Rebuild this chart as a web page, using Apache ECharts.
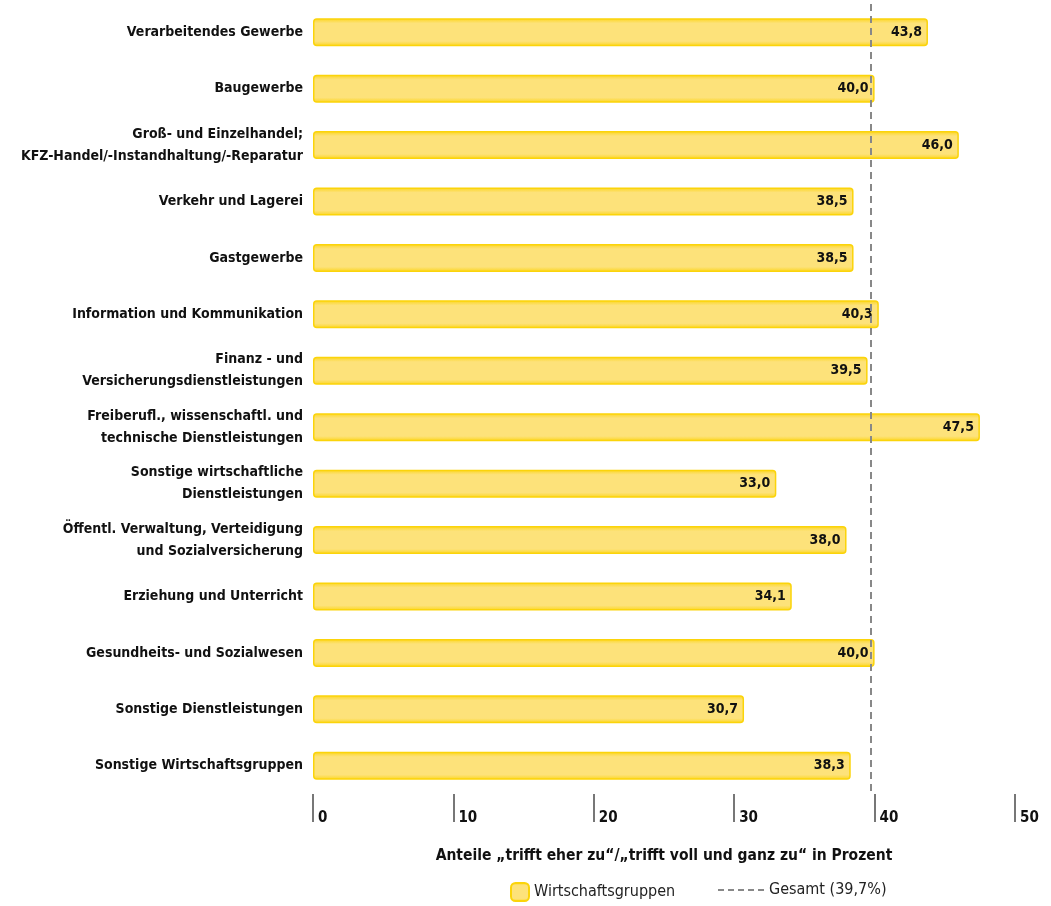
<!DOCTYPE html>
<html>
<head>
<meta charset="utf-8">
<script src="https://cdn.jsdelivr.net/npm/echarts@6/dist/echarts.min.js"></script>
<style>
html, body { margin: 0; padding: 0; background: #fff; }
#main { width: 1051px; height: 906px; }
</style>
</head>
<body>
<div id="main"></div>
<script>
var categories = [
	'Verarbeitendes Gewerbe',
	'Baugewerbe',
	'Groß- und Einzelhandel;\nKFZ-Handel/-Instandhaltung/-Reparatur',
	'Verkehr und Lagerei',
	'Gastgewerbe',
	'Information und Kommunikation',
	'Finanz - und\nVersicherungsdienstleistungen',
	'Freiberufl., wissenschaftl. und\ntechnische Dienstleistungen',
	'Sonstige wirtschaftliche\nDienstleistungen',
	'Öffentl. Verwaltung, Verteidigung\nund Sozialversicherung',
	'Erziehung und Unterricht',
	'Gesundheits- und Sozialwesen',
	'Sonstige Dienstleistungen',
	'Sonstige Wirtschaftsgruppen'
];
var values = [43.8, 40.0, 46.0, 38.5, 38.5, 40.3, 39.5, 47.5, 33.0, 38.0, 34.1, 40.0, 30.7, 38.3];
var gesamt = 39.7;
var ticks = [0, 10, 20, 30, 40, 50];

var font = "'DejaVu Sans Condensed', 'Liberation Sans Narrow', 'Noto Sans', sans-serif";

var myChart = echarts.init(document.getElementById('main'));

var option = {
	animation: false,
	textStyle: { fontFamily: font },
	grid: { left: 313, right: 36, top: 4, bottom: 112, containLabel: false, outerBoundsMode: 'none' },
	legend: [
		{
			left: 505,
			top: 877,
			itemWidth: 18,
			itemHeight: 18,
			textStyle: { fontSize: 16, color: '#222', fontFamily: font },
			data: [{ name: 'Wirtschaftsgruppen', icon: 'roundRect' }]
		},
		{
			left: 712,
			top: 877,
			itemWidth: 46,
			itemHeight: 18,
			textStyle: { fontSize: 16, color: '#222', fontFamily: font },
			data: [{ name: 'Gesamt (39,7%)', itemStyle: { opacity: 0 } }]
		}
	],
	xAxis: {
		type: 'value',
		min: ticks[0],
		max: ticks[ticks.length - 1],
		interval: 10,
		position: 'bottom',
		splitLine: { show: false },
		axisLine: { show: false },
		axisTick: { show: true, length: 28, inside: false, lineStyle: { color: '#777', width: 2 } },
		axisLabel: {
			margin: 17,
			align: 'left',
			padding: [0, 0, 0, 5],
			fontSize: 15,
			fontWeight: 'bold',
			color: '#111'
		},
		name: 'Anteile „trifft eher zu“/„trifft voll und ganz zu“ in Prozent',
		nameLocation: 'middle',
		nameGap: 54,
		nameTextStyle: { fontSize: 15.5, fontWeight: 'bold', color: '#111' }
	},
	yAxis: {
		type: 'category',
		inverse: true,
		data: categories,
		axisLine: { show: false },
		axisTick: { show: false },
		axisLabel: {
			margin: 10,
			fontSize: 14,
			fontWeight: 'bold',
			color: '#111',
			lineHeight: 22
		}
	},
	series: [
		{
			name: 'Wirtschaftsgruppen',
			type: 'bar',
			barWidth: 28,
			data: values,
			itemStyle: {
				color: new echarts.graphic.LinearGradient(0, 0, 0, 1, [
					{ offset: 0, color: '#fcd51c' },
					{ offset: 0.18, color: '#fde27a' },
					{ offset: 0.82, color: '#fde27a' },
					{ offset: 1, color: '#fcd51c' }
				]),
				borderColor: '#fbd40a',
				borderWidth: 1.5,
				borderRadius: 3
			},
			label: {
				show: true,
				position: 'insideRight',
				distance: 6,
				fontSize: 14,
				fontWeight: 'bold',
				color: '#111',
				formatter: function (p) {
					return p.value.toFixed(1).replace('.', ',');
				}
			},
			z: 2
		},
		{
			name: 'Gesamt (39,7%)',
			type: 'line',
			data: [],
			symbol: 'none',
			itemStyle: { color: '#888' },
			lineStyle: { color: '#888', width: 2, type: [6, 4] },
			markLine: {
				silent: true,
				symbol: 'none',
				label: { show: false },
				lineStyle: { color: '#888', width: 2, type: [7, 5] },
				data: [{ xAxis: gesamt }]
			},
			z: 5
		}
	]
};

myChart.setOption(option);
</script>
</body>
</html>
